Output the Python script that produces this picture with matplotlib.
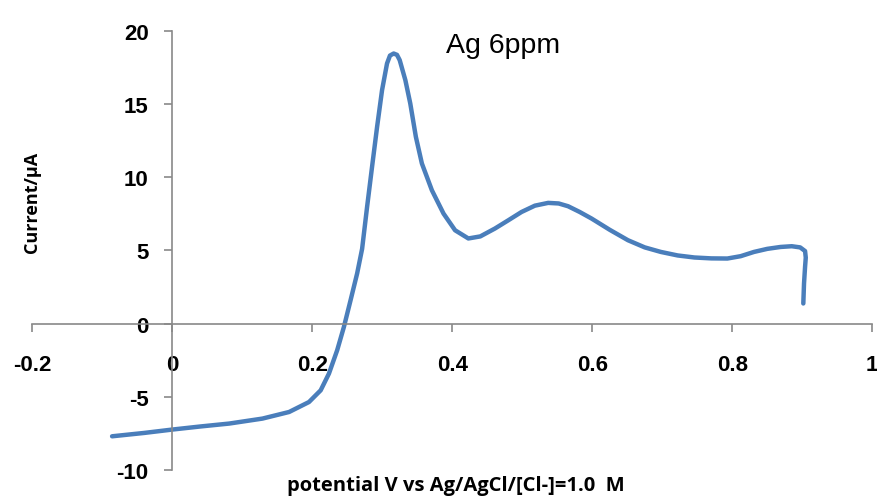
import matplotlib
matplotlib.use("Agg")
import matplotlib.pyplot as plt

plt.rcParams["axes.unicode_minus"] = False

# potential (V) and current (uA)
potential = [-0.086, -0.04, 0.0, 0.04, 0.0814, 0.1289, 0.1669, 0.1953, 0.212,
             0.2238, 0.2356, 0.2452, 0.2547, 0.2641, 0.2712, 0.2783, 0.2854,
             0.2926, 0.2997, 0.3068, 0.311, 0.3163, 0.321, 0.3249, 0.333, 0.340,
             0.348, 0.3566, 0.3709, 0.3875, 0.404, 0.423, 0.44, 0.461, 0.48,
             0.499, 0.518, 0.537, 0.552, 0.5655, 0.582, 0.599, 0.625, 0.651,
             0.675, 0.698, 0.722, 0.746, 0.77, 0.793, 0.812, 0.831, 0.85, 0.869,
             0.885, 0.897, 0.904, 0.905, 0.904, 0.9025, 0.9015]
current = [-7.70, -7.47, -7.24, -7.03, -6.83, -6.49, -6.04, -5.36, -4.56,
           -3.42, -1.82, -0.23, 1.59, 3.42, 5.10, 7.96, 10.70,
           13.43, 15.94, 17.76, 18.30, 18.44, 18.35, 17.99, 16.62, 15.03,
           12.75, 10.93, 9.10, 7.51, 6.37, 5.81, 5.95, 6.49, 7.05,
           7.62, 8.05, 8.24, 8.20, 8.01, 7.62, 7.17, 6.40, 5.69,
           5.20, 4.89, 4.65, 4.51, 4.45, 4.44, 4.60, 4.89, 5.10, 5.23,
           5.28, 5.20, 4.95, 4.50, 3.87, 2.73, 1.37]

x_ticks = [-0.2, 0, 0.2, 0.4, 0.6, 0.8, 1]
x_labels = ["-0.2", "0", "0.2", "0.4", "0.6", "0.8", "1"]
y_ticks = [-10, -5, 0, 5, 10, 15, 20]

axis_grey = "#898989"
line_blue = "#4a7ebb"

fig = plt.figure(figsize=(8.77, 5.02), dpi=100)
ax = fig.add_axes([0.0368, 0.0618, 0.9578, 0.8751])

ax.plot(potential, current, color=line_blue, linewidth=3.2,
        solid_capstyle="round", solid_joinstyle="round")

ax.set_xlim(-0.2, 1)
ax.set_ylim(-10, 20)

# excel style axes crossing at the origin
ax.spines["left"].set_position(("data", 0))
ax.spines["bottom"].set_position(("data", 0))
ax.spines["top"].set_visible(False)
ax.spines["right"].set_visible(False)
for s in ["left", "bottom"]:
    ax.spines[s].set_color(axis_grey)
    ax.spines[s].set_linewidth(1.2)

ax.set_xticks(x_ticks)
ax.set_xticklabels(x_labels)
ax.set_yticks(y_ticks)
ax.tick_params(axis="both", direction="out", length=6, width=1.2,
               color=axis_grey, labelsize=16)
ax.tick_params(axis="x", pad=16)
ax.tick_params(axis="y", pad=11)
for lab in ax.get_xticklabels() + ax.get_yticklabels():
    lab.set_fontweight("bold")
    lab.set_fontfamily("Liberation Sans")

ax.text(0.391, 19.0, "Ag 6ppm", fontsize=20.5, family="Liberation Sans",
        ha="left", va="center")

fig.text(0.52, 0.032, "potential V vs Ag/AgCl/[Cl-]=1.0  M", fontsize=14.5,
         fontweight="bold", family="Open Sans", ha="center", va="center")
fig.text(0.036, 0.597, "Current/\u03bcA", fontsize=13, fontweight="bold",
         family="Open Sans", rotation=90, ha="center", va="center")

fig.savefig("out.png", dpi=100)
